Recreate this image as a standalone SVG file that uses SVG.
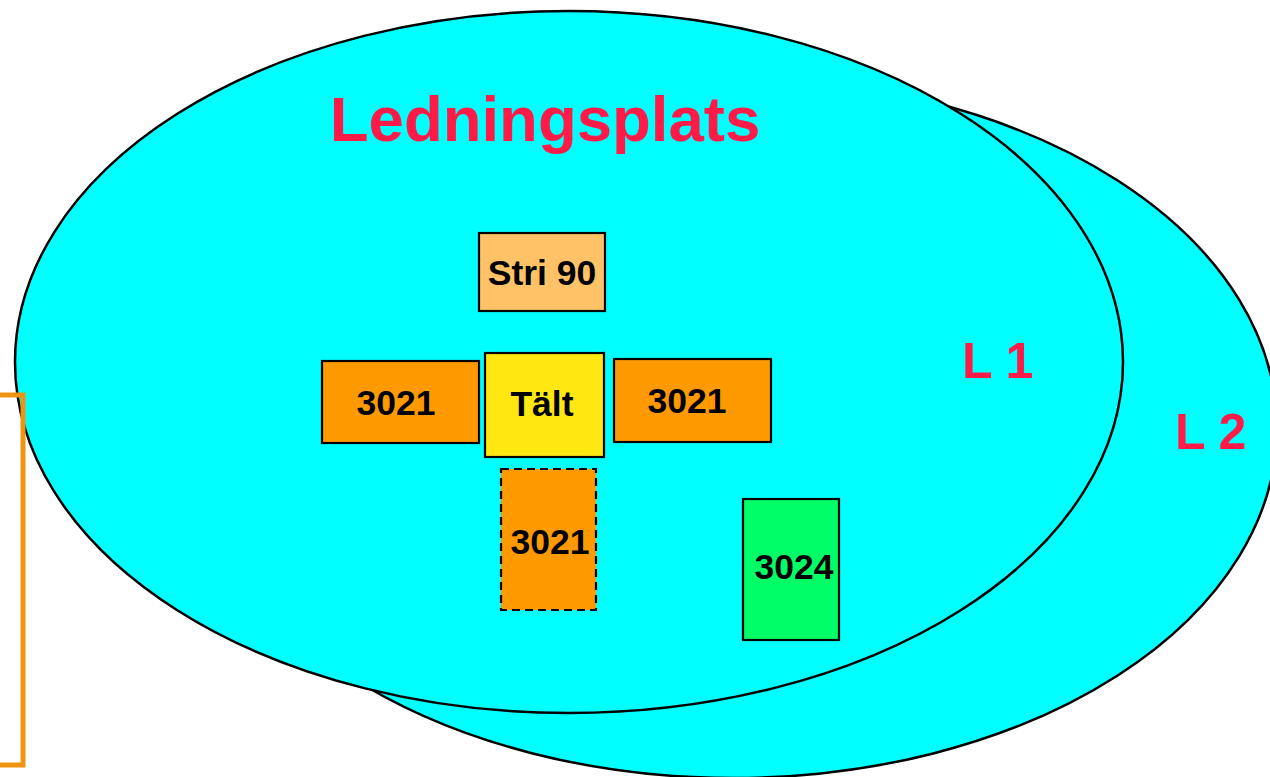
<svg xmlns="http://www.w3.org/2000/svg" width="1270" height="777" viewBox="0 0 1270 777">
<style>
.area{fill:#00FFFF;stroke:#000;stroke-width:2.5}
.box{stroke:#000;stroke-width:2.2}
.t{font-family:"Liberation Sans",Arial,sans-serif;font-weight:bold;fill:#000;font-size:35.5px;text-anchor:middle}
.red{font-family:"Liberation Sans",Arial,sans-serif;font-weight:bold;fill:#FF1A47}
</style>
<rect width="1270" height="777" fill="#fff"/>
<g id="L2">
<ellipse class="area" cx="733" cy="428" rx="544" ry="350"/>
<text class="red" x="1175" y="449" font-size="50">L 2</text>
</g>
<g id="L1">
<ellipse class="area" cx="569" cy="362" rx="554" ry="351"/>
<text class="red" x="962" y="378" font-size="50">L 1</text>
<text class="red" x="545" y="141" font-size="63.5" text-anchor="middle">Ledningsplats</text>
</g>
<g id="frame">
<rect x="-10" y="395" width="33" height="370" fill="none" stroke="#EE9411" stroke-width="5"/>
</g>
<g id="stri90">
<rect class="box" x="479" y="233" width="126" height="78" fill="#FFC266"/>
<text class="t" x="542" y="285">Stri 90</text>
</g>
<g id="talt">
<rect class="box" x="485" y="353" width="119" height="104" fill="#FFE811"/>
<text class="t" x="542" y="416">Tält</text>
</g>
<g id="n3021left">
<rect class="box" x="322" y="361" width="157" height="82" fill="#FF9900"/>
<text class="t" x="396" y="415">3021</text>
</g>
<g id="n3021right">
<rect class="box" x="614" y="359" width="157" height="83" fill="#FF9900"/>
<text class="t" x="687" y="413">3021</text>
</g>
<g id="n3021dashed">
<rect class="box" x="501" y="469" width="95" height="141" fill="#FF9900" stroke-dasharray="8,5"/>
<text class="t" x="550" y="554">3021</text>
</g>
<g id="n3024">
<rect class="box" x="743" y="499" width="96" height="141" fill="#00FF66"/>
<text class="t" x="794" y="579">3024</text>
</g>
<g id="connectors"></g>
</svg>
